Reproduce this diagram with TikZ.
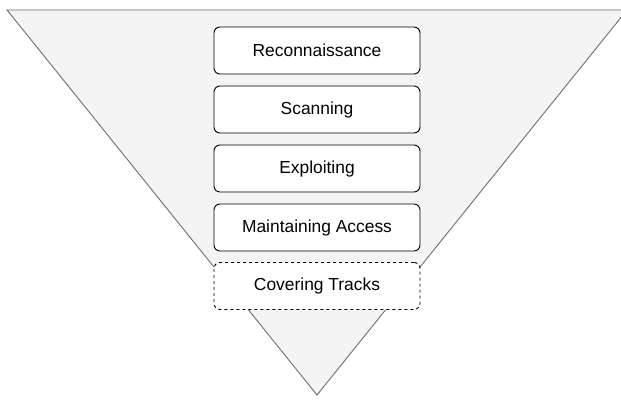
\documentclass[tikz,border=0pt]{standalone}
\usepackage{fontspec}
\setmainfont{Liberation Sans}
\begin{document}
\begin{tikzpicture}[x=1pt,y=-1pt,
  stage/.style={draw=black,fill=white,rounded corners=6pt,minimum width=206pt,minimum height=47pt,line width=0.9pt,font=\fontsize{17.4}{20}\selectfont,inner sep=0pt},
  stagedash/.style={stage,dashed}]
\useasboundingbox (0,0) rectangle (621,399);
\begin{scope}
\clip (0,0) rectangle (621,399);
\draw[fill={rgb,255:red,244;green,244;blue,244},draw={rgb,255:red,110;green,110;blue,110},line width=0.9pt] (7,10) -- (627,10) -- (317,395) -- cycle;
\end{scope}
\node[stage] (r) at (317,50.5) {Reconnaissance};
\node[stage] (s) at (317,109.5) {Scanning};
\node[stage] (e) at (317,168.5) {Exploiting};
\node[stage] (m) at (317,227.5) {Maintaining Access};
\node[stagedash] (c) at (317,286) {Covering Tracks};
\end{tikzpicture}
\end{document}
